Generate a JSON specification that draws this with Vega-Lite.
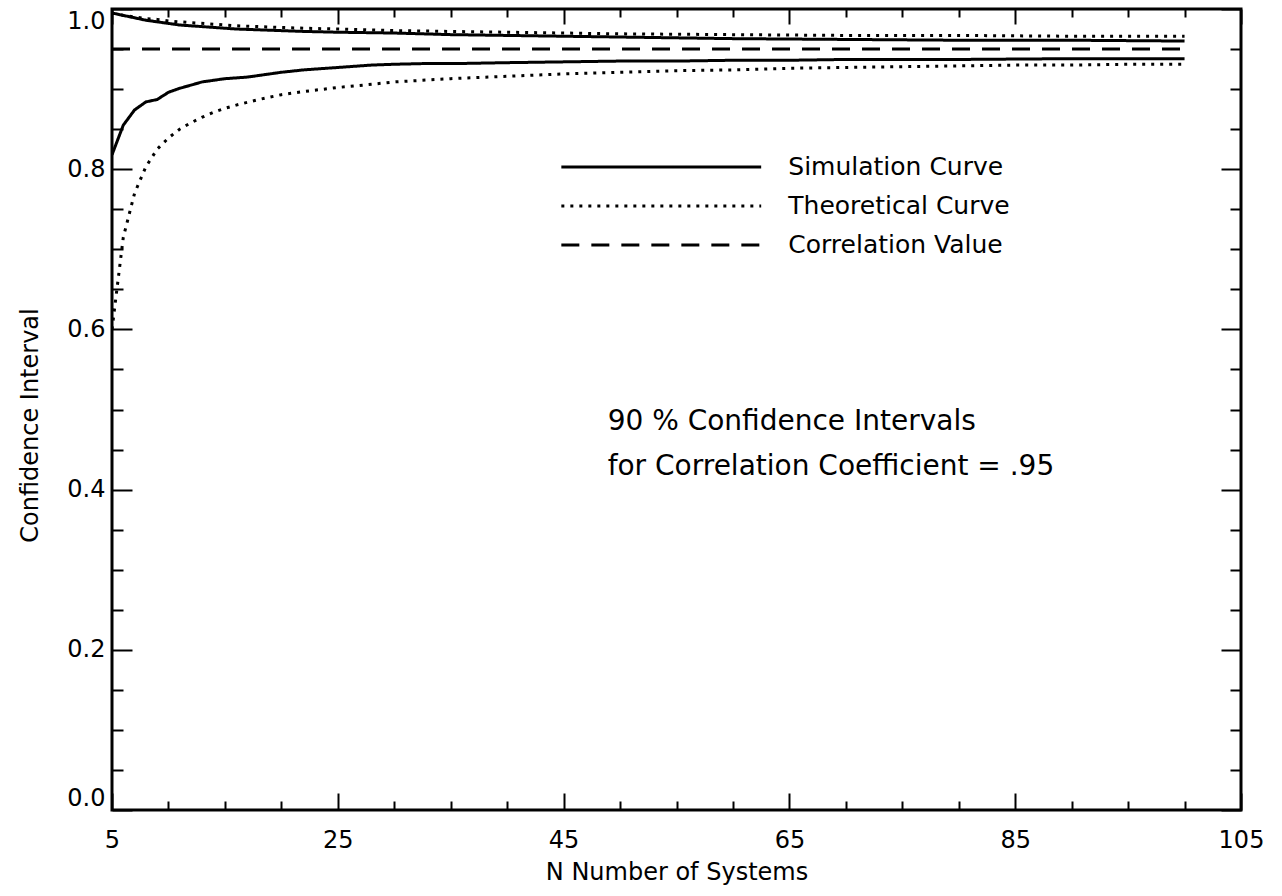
{
  "$schema": "https://vega.github.io/schema/vega-lite/v6.json",
  "width": 1129,
  "height": 801,
  "autosize": {"type": "none"},
  "padding": {"left": 112, "top": 9, "right": 41, "bottom": 86},
  "background": "white",
  "config": {
    "view": {"stroke": "black", "strokeWidth": 3},
    "axis": {
      "domain": false,
      "grid": false,
      "tickColor": "black",
      "tickWidth": 2,
      "labelFont": "DejaVu Sans",
      "labelFontSize": 24,
      "labelColor": "black",
      "titleFont": "DejaVu Sans",
      "titleFontSize": 24,
      "titleFontWeight": "normal",
      "titleColor": "black",
      "labelOverlap": false,
      "labelFlush": false
    },
    "text": {"font": "DejaVu Sans", "fontSize": 24, "color": "black"}
  },
  "datasets": {
    "curves": [
      {"n": 5, "v": 0.995, "curve": "sim_upper", "style": "solid"},
      {"n": 6, "v": 0.992, "curve": "sim_upper", "style": "solid"},
      {"n": 7, "v": 0.989, "curve": "sim_upper", "style": "solid"},
      {"n": 8, "v": 0.986, "curve": "sim_upper", "style": "solid"},
      {"n": 9, "v": 0.984, "curve": "sim_upper", "style": "solid"},
      {"n": 10, "v": 0.982, "curve": "sim_upper", "style": "solid"},
      {"n": 11, "v": 0.980, "curve": "sim_upper", "style": "solid"},
      {"n": 12, "v": 0.979, "curve": "sim_upper", "style": "solid"},
      {"n": 14, "v": 0.977, "curve": "sim_upper", "style": "solid"},
      {"n": 16, "v": 0.975, "curve": "sim_upper", "style": "solid"},
      {"n": 18, "v": 0.974, "curve": "sim_upper", "style": "solid"},
      {"n": 20, "v": 0.973, "curve": "sim_upper", "style": "solid"},
      {"n": 22, "v": 0.972, "curve": "sim_upper", "style": "solid"},
      {"n": 25, "v": 0.971, "curve": "sim_upper", "style": "solid"},
      {"n": 30, "v": 0.970, "curve": "sim_upper", "style": "solid"},
      {"n": 35, "v": 0.968, "curve": "sim_upper", "style": "solid"},
      {"n": 40, "v": 0.967, "curve": "sim_upper", "style": "solid"},
      {"n": 45, "v": 0.966, "curve": "sim_upper", "style": "solid"},
      {"n": 50, "v": 0.965, "curve": "sim_upper", "style": "solid"},
      {"n": 60, "v": 0.963, "curve": "sim_upper", "style": "solid"},
      {"n": 70, "v": 0.962, "curve": "sim_upper", "style": "solid"},
      {"n": 80, "v": 0.961, "curve": "sim_upper", "style": "solid"},
      {"n": 90, "v": 0.961, "curve": "sim_upper", "style": "solid"},
      {"n": 100, "v": 0.960, "curve": "sim_upper", "style": "solid"},

      {"n": 5, "v": 0.995, "curve": "theo_upper", "style": "dotted"},
      {"n": 6, "v": 0.992, "curve": "theo_upper", "style": "dotted"},
      {"n": 7, "v": 0.990, "curve": "theo_upper", "style": "dotted"},
      {"n": 8, "v": 0.988, "curve": "theo_upper", "style": "dotted"},
      {"n": 9, "v": 0.987, "curve": "theo_upper", "style": "dotted"},
      {"n": 10, "v": 0.985, "curve": "theo_upper", "style": "dotted"},
      {"n": 11, "v": 0.984, "curve": "theo_upper", "style": "dotted"},
      {"n": 12, "v": 0.983, "curve": "theo_upper", "style": "dotted"},
      {"n": 14, "v": 0.981, "curve": "theo_upper", "style": "dotted"},
      {"n": 16, "v": 0.979, "curve": "theo_upper", "style": "dotted"},
      {"n": 18, "v": 0.978, "curve": "theo_upper", "style": "dotted"},
      {"n": 20, "v": 0.977, "curve": "theo_upper", "style": "dotted"},
      {"n": 22, "v": 0.976, "curve": "theo_upper", "style": "dotted"},
      {"n": 25, "v": 0.975, "curve": "theo_upper", "style": "dotted"},
      {"n": 30, "v": 0.973, "curve": "theo_upper", "style": "dotted"},
      {"n": 35, "v": 0.972, "curve": "theo_upper", "style": "dotted"},
      {"n": 40, "v": 0.971, "curve": "theo_upper", "style": "dotted"},
      {"n": 45, "v": 0.970, "curve": "theo_upper", "style": "dotted"},
      {"n": 50, "v": 0.969, "curve": "theo_upper", "style": "dotted"},
      {"n": 60, "v": 0.968, "curve": "theo_upper", "style": "dotted"},
      {"n": 70, "v": 0.967, "curve": "theo_upper", "style": "dotted"},
      {"n": 80, "v": 0.967, "curve": "theo_upper", "style": "dotted"},
      {"n": 90, "v": 0.966, "curve": "theo_upper", "style": "dotted"},
      {"n": 100, "v": 0.966, "curve": "theo_upper", "style": "dotted"},

      {"n": 5, "v": 0.818, "curve": "sim_lower", "style": "solid"},
      {"n": 6, "v": 0.855, "curve": "sim_lower", "style": "solid"},
      {"n": 7, "v": 0.874, "curve": "sim_lower", "style": "solid"},
      {"n": 8, "v": 0.884, "curve": "sim_lower", "style": "solid"},
      {"n": 9, "v": 0.887, "curve": "sim_lower", "style": "solid"},
      {"n": 10, "v": 0.896, "curve": "sim_lower", "style": "solid"},
      {"n": 11, "v": 0.901, "curve": "sim_lower", "style": "solid"},
      {"n": 12, "v": 0.905, "curve": "sim_lower", "style": "solid"},
      {"n": 13, "v": 0.909, "curve": "sim_lower", "style": "solid"},
      {"n": 14, "v": 0.911, "curve": "sim_lower", "style": "solid"},
      {"n": 15, "v": 0.913, "curve": "sim_lower", "style": "solid"},
      {"n": 16, "v": 0.914, "curve": "sim_lower", "style": "solid"},
      {"n": 17, "v": 0.915, "curve": "sim_lower", "style": "solid"},
      {"n": 18, "v": 0.917, "curve": "sim_lower", "style": "solid"},
      {"n": 19, "v": 0.919, "curve": "sim_lower", "style": "solid"},
      {"n": 20, "v": 0.921, "curve": "sim_lower", "style": "solid"},
      {"n": 22, "v": 0.924, "curve": "sim_lower", "style": "solid"},
      {"n": 24, "v": 0.926, "curve": "sim_lower", "style": "solid"},
      {"n": 26, "v": 0.928, "curve": "sim_lower", "style": "solid"},
      {"n": 28, "v": 0.930, "curve": "sim_lower", "style": "solid"},
      {"n": 30, "v": 0.931, "curve": "sim_lower", "style": "solid"},
      {"n": 33, "v": 0.932, "curve": "sim_lower", "style": "solid"},
      {"n": 36, "v": 0.932, "curve": "sim_lower", "style": "solid"},
      {"n": 40, "v": 0.933, "curve": "sim_lower", "style": "solid"},
      {"n": 45, "v": 0.934, "curve": "sim_lower", "style": "solid"},
      {"n": 50, "v": 0.935, "curve": "sim_lower", "style": "solid"},
      {"n": 55, "v": 0.935, "curve": "sim_lower", "style": "solid"},
      {"n": 60, "v": 0.936, "curve": "sim_lower", "style": "solid"},
      {"n": 65, "v": 0.936, "curve": "sim_lower", "style": "solid"},
      {"n": 70, "v": 0.937, "curve": "sim_lower", "style": "solid"},
      {"n": 80, "v": 0.937, "curve": "sim_lower", "style": "solid"},
      {"n": 90, "v": 0.938, "curve": "sim_lower", "style": "solid"},
      {"n": 100, "v": 0.938, "curve": "sim_lower", "style": "solid"},

      {"n": 5, "v": 0.600, "curve": "theo_lower", "style": "dotted"},
      {"n": 6, "v": 0.715, "curve": "theo_lower", "style": "dotted"},
      {"n": 7, "v": 0.770, "curve": "theo_lower", "style": "dotted"},
      {"n": 8, "v": 0.803, "curve": "theo_lower", "style": "dotted"},
      {"n": 9, "v": 0.825, "curve": "theo_lower", "style": "dotted"},
      {"n": 10, "v": 0.839, "curve": "theo_lower", "style": "dotted"},
      {"n": 11, "v": 0.850, "curve": "theo_lower", "style": "dotted"},
      {"n": 12, "v": 0.858, "curve": "theo_lower", "style": "dotted"},
      {"n": 13, "v": 0.865, "curve": "theo_lower", "style": "dotted"},
      {"n": 14, "v": 0.871, "curve": "theo_lower", "style": "dotted"},
      {"n": 15, "v": 0.876, "curve": "theo_lower", "style": "dotted"},
      {"n": 16, "v": 0.880, "curve": "theo_lower", "style": "dotted"},
      {"n": 18, "v": 0.887, "curve": "theo_lower", "style": "dotted"},
      {"n": 20, "v": 0.893, "curve": "theo_lower", "style": "dotted"},
      {"n": 22, "v": 0.897, "curve": "theo_lower", "style": "dotted"},
      {"n": 25, "v": 0.902, "curve": "theo_lower", "style": "dotted"},
      {"n": 28, "v": 0.906, "curve": "theo_lower", "style": "dotted"},
      {"n": 30, "v": 0.909, "curve": "theo_lower", "style": "dotted"},
      {"n": 35, "v": 0.913, "curve": "theo_lower", "style": "dotted"},
      {"n": 40, "v": 0.916, "curve": "theo_lower", "style": "dotted"},
      {"n": 45, "v": 0.919, "curve": "theo_lower", "style": "dotted"},
      {"n": 50, "v": 0.921, "curve": "theo_lower", "style": "dotted"},
      {"n": 55, "v": 0.923, "curve": "theo_lower", "style": "dotted"},
      {"n": 60, "v": 0.924, "curve": "theo_lower", "style": "dotted"},
      {"n": 65, "v": 0.926, "curve": "theo_lower", "style": "dotted"},
      {"n": 70, "v": 0.927, "curve": "theo_lower", "style": "dotted"},
      {"n": 75, "v": 0.928, "curve": "theo_lower", "style": "dotted"},
      {"n": 80, "v": 0.929, "curve": "theo_lower", "style": "dotted"},
      {"n": 85, "v": 0.930, "curve": "theo_lower", "style": "dotted"},
      {"n": 90, "v": 0.930, "curve": "theo_lower", "style": "dotted"},
      {"n": 95, "v": 0.931, "curve": "theo_lower", "style": "dotted"},
      {"n": 100, "v": 0.931, "curve": "theo_lower", "style": "dotted"},

      {"n": 5, "v": 0.95, "curve": "corr", "style": "dashed"},
      {"n": 100, "v": 0.95, "curve": "corr", "style": "dashed"}
    ],
    "legend": [
      {"n": 44.8, "n2": 62.5, "v": 0.8027, "style": "solid", "label": "Simulation Curve", "tn": 64.9},
      {"n": 44.8, "n2": 62.5, "v": 0.7541, "style": "dotted", "label": "Theoretical Curve", "tn": 64.9},
      {"n": 44.8, "n2": 62.5, "v": 0.7054, "style": "dashed", "label": "Correlation Value", "tn": 64.9}
    ],
    "notes": [
      {"n": 48.9, "v": 0.4844, "label": "90 % Confidence Intervals"},
      {"n": 48.9, "v": 0.4282, "label": "for Correlation Coefficient = .95"}
    ]
  },
  "layer": [
    {
      "layer": [
        {
          "data": {"name": "curves"},
          "mark": {"type": "line", "color": "black", "strokeWidth": 3, "strokeCap": "butt", "clip": true},
          "encoding": {
            "x": {
              "field": "n", "type": "quantitative",
              "scale": {"domain": [5, 105], "nice": false, "zero": false},
              "axis": {
                "orient": "bottom",
                "title": "N Number of Systems",
                "titleBaseline": "alphabetic",
                "titleY": 69,
                "values": [5,10,15,20,25,30,35,40,45,50,55,60,65,70,75,80,85,90,95,100,105],
                "labelExpr": "datum.value % 20 == 5 ? datum.label : ''",
                "tickSize": {"condition": {"test": "datum.value % 20 == 5", "value": -17}, "value": -9},
                "labelPadding": 35
              }
            },
            "y": {
              "field": "v", "type": "quantitative",
              "scale": {"domain": [0, 1], "nice": false, "zero": false},
              "axis": {
                "orient": "left",
                "title": "Confidence Interval",
                "titleBaseline": "alphabetic",
                "titleX": -75,
                "titleY": 416,
                "values": [0,0.05,0.1,0.15,0.2,0.25,0.3,0.35,0.4,0.45,0.5,0.55,0.6,0.65,0.7,0.75,0.8,0.85,0.9,0.95,1.0],
                "labelExpr": "abs(datum.value*5 - round(datum.value*5)) < 0.001 ? format(datum.value, '.1f') : ''",
                "tickSize": {"condition": {"test": "abs(datum.value*5 - round(datum.value*5)) < 0.001", "value": -20}, "value": -11},
                "labelPadding": 27,
                "labelFlush": true
              }
            },
            "strokeDash": {
              "field": "style", "type": "nominal",
              "scale": {"domain": ["solid", "dotted", "dashed"], "range": [[1, 0], [3, 6], [18, 12]]},
              "legend": null
            },
            "detail": {"field": "curve", "type": "nominal"}
          }
        },
        {
          "data": {"name": "legend"},
          "mark": {"type": "rule", "color": "black", "strokeWidth": 3, "strokeCap": "butt"},
          "encoding": {
            "x": {"field": "n", "type": "quantitative"},
            "x2": {"field": "n2"},
            "y": {"field": "v", "type": "quantitative"},
            "strokeDash": {"field": "style", "type": "nominal", "legend": null}
          }
        },
        {
          "data": {"name": "legend"},
          "mark": {"type": "text", "align": "left", "baseline": "middle", "fontSize": 25},
          "encoding": {
            "x": {"field": "tn", "type": "quantitative", "title": "N Number of Systems"},
            "y": {"field": "v", "type": "quantitative"},
            "text": {"field": "label"}
          }
        },
        {
          "data": {"name": "notes"},
          "mark": {"type": "text", "align": "left", "baseline": "middle", "fontSize": 28},
          "encoding": {
            "x": {"field": "n", "type": "quantitative"},
            "y": {"field": "v", "type": "quantitative"},
            "text": {"field": "label"}
          }
        }
      ]
    },
    {
      "data": {"name": "curves"},
      "mark": {"type": "point", "opacity": 0},
      "encoding": {
        "x": {
          "field": "n", "type": "quantitative",
          "scale": {"domain": [5, 105], "nice": false, "zero": false},
          "axis": {
            "orient": "top", "title": null, "labels": false,
            "values": [5,10,15,20,25,30,35,40,45,50,55,60,65,70,75,80,85,90,95,100,105],
            "tickSize": {"condition": {"test": "datum.value % 20 == 5", "value": -15}, "value": -8}
          }
        },
        "y": {
          "field": "v", "type": "quantitative",
          "scale": {"domain": [0, 1], "nice": false, "zero": false},
          "axis": {
            "orient": "right", "title": null, "labels": false,
            "values": [0,0.05,0.1,0.15,0.2,0.25,0.3,0.35,0.4,0.45,0.5,0.55,0.6,0.65,0.7,0.75,0.8,0.85,0.9,0.95,1.0],
            "tickSize": {"condition": {"test": "abs(datum.value*5 - round(datum.value*5)) < 0.001", "value": -20}, "value": -11}
          }
        }
      }
    }
  ],
  "resolve": {
    "scale": {"x": "independent", "y": "independent"},
    "axis": {"x": "independent", "y": "independent"}
  }
}
